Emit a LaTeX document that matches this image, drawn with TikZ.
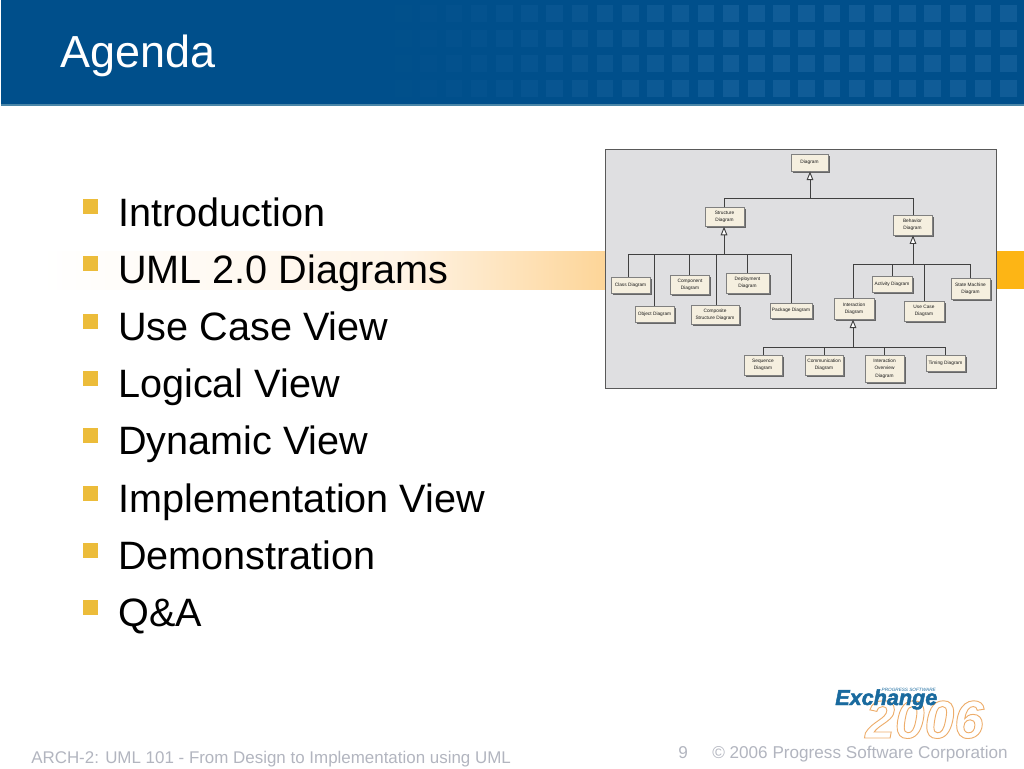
\documentclass[tikz,border=0pt]{standalone}
\usepackage{fontspec}
\setmainfont{Liberation Sans}
\usetikzlibrary{arrows.meta,shadows}

\definecolor{hdrblue}{HTML}{004F8B}
\definecolor{hdrline}{HTML}{4A86A8}
\definecolor{hdrsquare}{HTML}{14609A}
\definecolor{bullet}{HTML}{ECBC3A}
\definecolor{bandorange}{HTML}{FDB515}
\definecolor{bandpale}{HTML}{FFF4E6}
\definecolor{bandmid}{HTML}{FDD598}
\definecolor{panelgray}{HTML}{DFDFE1}
\definecolor{boxfill}{HTML}{F5EFDF}
\definecolor{footgray}{HTML}{B2B5BF}
\definecolor{logoblue}{HTML}{1A6A9F}

\newcommand{\strokedtext}[1]{\special{pdf:code q 1 Tr 0.7 w 0.93 0.68 0.42 RG}#1\special{pdf:code Q}}
\newcommand{\heavytext}[1]{\special{pdf:code q 2 Tr 0.35 w 0.10 0.42 0.62 RG}#1\special{pdf:code Q}}

\tikzset{
  item/.style={anchor=base west, inner sep=0pt, font=\fontsize{29.7}{30}\selectfont},
  foot/.style={anchor=base west, inner sep=0pt, text=footgray, font=\fontsize{12.85}{13}\selectfont},
  dbox/.style={draw=black!50, line width=0.4pt, fill=boxfill, inner sep=0pt, align=center, text=black!90,
    font=\fontsize{3.6}{5.5}\selectfont, drop shadow={shadow xshift=1.3pt, shadow yshift=-1.3pt, opacity=1, fill=black!60}},
  wire/.style={draw=black!75, line width=0.7pt},
  inherit/.style={wire, -{Triangle[open, length=6.5pt, width=5pt, fill=white]}}
}

\begin{document}
\begin{tikzpicture}[x=0.75pt,y=-0.75pt]
\useasboundingbox (0,0) rectangle (1024,768);

\fill[hdrblue] (1,0) rectangle (1024,104);
\fill[hdrline] (1,104) rectangle (1024,105.5);
\foreach \c in {0,...,27}{
  \pgfmathsetmacro{\sqx}{319.6+25.2*\c}
  \pgfmathsetmacro{\sqo}{max(0,min(1,(\c-2)/14))*0.8}
  \foreach \sqy in {5,30,55,80}{
    \fill[hdrsquare,opacity=\sqo] (\sqx,\sqy) rectangle ++(16.5,17);
  }
}
\node[anchor=base west,inner sep=0pt,text=white,font=\fontsize{33.7}{34}\selectfont] (title) at (60,67) {Agenda};

\shade[left color=white,right color=bandpale] (40,251) rectangle (400,289);
\shade[left color=bandpale,right color=bandmid] (400,251) rectangle (605,289);
\fill[bandorange] (996,251) rectangle (1024,289);

\foreach \n/\t [count=\i from 0] in {intro/Introduction,uml/UML 2.0 Diagrams,usecase/Use Case View,logical/Logical View,dynamic/Dynamic View,impl/Implementation View,demo/Demonstration,qa/Q\&A}{
  \fill[bullet] (83,199+57.3*\i) rectangle ++(15,15);
  \node[item] (\n) at (118,226+57.2*\i) {\t};
}

\draw[draw=black!65,fill=panelgray,line width=0.6pt] (605,149) rectangle (996,388);

\node[dbox,minimum width=28pt,minimum height=13pt] (diagram) at (809.5,162.5) {Diagram};
\node[dbox,minimum width=29pt,minimum height=14pt] (structure) at (724.5,217) {Structure\\Diagram};
\node[dbox,minimum width=29pt,minimum height=15pt] (behavior) at (912.5,225) {Behavior\\Diagram};
\node[dbox,minimum width=29pt,minimum height=12pt] (class) at (630.5,285) {Class Diagram};
\node[dbox,minimum width=29pt,minimum height=12pt] (object) at (654.5,314) {Object Diagram};
\node[dbox,minimum width=29pt,minimum height=14pt] (component) at (690,285) {Component\\Diagram};
\node[dbox,minimum width=36pt,minimum height=14pt] (composite) at (715,314.5) {Composite\\Structure Diagram};
\node[dbox,minimum width=32pt,minimum height=15pt] (deployment) at (747.5,283) {Deployment\\Diagram};
\node[dbox,minimum width=31.5pt,minimum height=11.5pt] (package) at (791,310.5) {Package Diagram};
\node[dbox,minimum width=30pt,minimum height=16pt] (interaction) at (854,308.5) {Interaction\\Diagram};
\node[dbox,minimum width=30pt,minimum height=12pt] (activity) at (892,284) {Activity Diagram};
\node[dbox,minimum width=30pt,minimum height=15pt] (usecasebox) at (924,311) {Use Case\\Diagram};
\node[dbox,minimum width=29pt,minimum height=16pt] (state) at (970.5,288.5) {State Machine\\Diagram};
\node[dbox,minimum width=28.5pt,minimum height=15pt] (sequence) at (763,365) {Sequence\\Diagram};
\node[dbox,minimum width=28.5pt,minimum height=15pt] (communication) at (824,365) {Communication\\Diagram};
\node[dbox,minimum width=29pt,minimum height=20pt] (overview) at (884.5,368.5) {Interaction\\Overview\\Diagram};
\node[dbox,minimum width=29pt,minimum height=12pt] (timing) at (945.5,363) {Timing Diagram};

\coordinate (rootbus) at (810,198);
\coordinate (structurebus) at (724,254);
\coordinate (behaviorbus) at (913,264);
\coordinate (interactionbus) at (853,347);

\draw[inherit] (rootbus) -- (rootbus |- diagram.south);
\draw[inherit] (structurebus) -- (structurebus |- structure.south);
\draw[inherit] (behaviorbus) -- (behaviorbus |- behavior.south);
\draw[inherit] (interactionbus) -- (interactionbus |- interaction.south);

\coordinate (rootl) at (724,198);
\coordinate (rootr) at (913,198);
\draw[wire] (structure.north -| rootl) -- (rootl) -- (rootr) -- (behavior.north -| rootr);

\coordinate (structurel) at (628,254);
\coordinate (structurer) at (791,254);
\draw[wire] (structurel) -- (structurer);
\foreach \x/\n in {628/class,654/object,689/component,716/composite,747/deployment,791/package}{
  \coordinate (drop) at (\x,254);
  \draw[wire] (drop) -- (drop |- \n.north);
}

\coordinate (behaviorl) at (853,264);
\coordinate (behaviorr) at (970,264);
\draw[wire] (behaviorl) -- (behaviorr);
\foreach \x/\n in {853/interaction,892/activity,924/usecasebox,970/state}{
  \coordinate (drop) at (\x,264);
  \draw[wire] (drop) -- (drop |- \n.north);
}

\coordinate (interactionl) at (763,347);
\coordinate (interactionr) at (945,347);
\draw[wire] (interactionl) -- (interactionr);
\foreach \x/\n in {763/sequence,824/communication,884/overview,945/timing}{
  \coordinate (drop) at (\x,347);
  \draw[wire] (drop) -- (drop |- \n.north);
}

\node[anchor=base west,inner sep=0pt,font=\fontsize{40}{40}\bfseries\itshape\selectfont] (year) at (865,738) {\strokedtext{2006}};
\node[anchor=base west,inner sep=0pt,text=logoblue,font=\fontsize{16.2}{17}\bfseries\itshape\selectfont] (exchange) at (835,705) {\heavytext{Exchange}};
\node[anchor=base east,inner sep=0pt,text=logoblue,font=\fontsize{3.5}{4}\itshape\selectfont] (progress) at (936,691) {PROGRESS SOFTWARE};

\node[foot,font=\fontsize{12.7}{13}\selectfont] (footleft) at (31,763) {ARCH-2: UML 101 - From Design to Implementation using UML};
\node[foot] (pagenum) at (678,758) {9};
\node[foot] (footright) at (712,758) {© 2006 Progress Software Corporation};

\end{tikzpicture}
\end{document}
